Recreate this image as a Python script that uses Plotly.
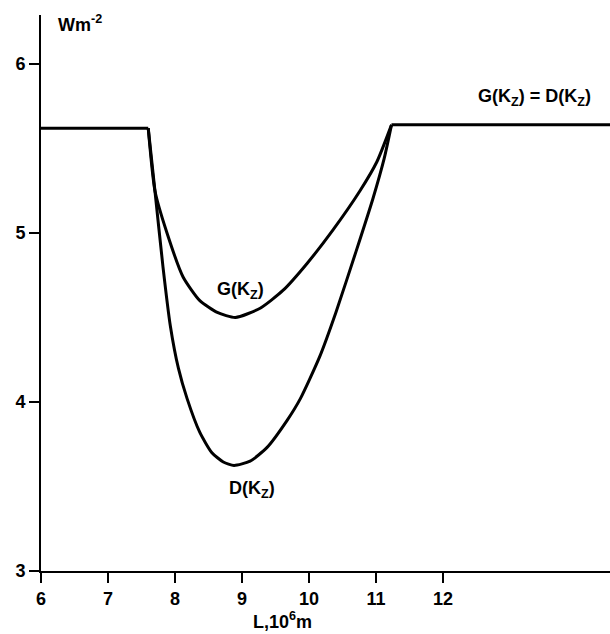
import plotly.graph_objects as go

# Flat parts (G = D)
flat_left_x = [6.0, 7.60]
flat_left_y = [5.62, 5.62]
flat_right_x = [11.23, 14.5]
flat_right_y = [5.64, 5.64]

# G(Kz) curve
g_x = [7.60, 7.70, 7.88, 8.12, 8.37, 8.63, 8.90, 9.27, 9.61, 9.97, 10.36, 10.76, 11.01, 11.23]
g_y = [5.62, 5.25, 5.00, 4.74, 4.60, 4.53, 4.50, 4.555, 4.66, 4.82, 5.02, 5.25, 5.42, 5.64]

# D(Kz) curve
d_x = [7.60, 7.70, 7.82, 7.93, 8.05, 8.18, 8.37, 8.55, 8.72, 8.88, 9.12, 9.37, 9.67, 9.87, 10.16, 10.40, 10.70, 10.95, 11.12, 11.23]
d_y = [5.62, 5.25, 4.80, 4.45, 4.20, 4.02, 3.82, 3.70, 3.645, 3.625, 3.65, 3.73, 3.89, 4.02, 4.27, 4.53, 4.89, 5.20, 5.44, 5.64]

x_ticks = [6, 7, 8, 9, 10, 11, 12]
y_ticks = [3, 4, 5, 6]

FONT = "Liberation Sans, Arial, sans-serif"
line = dict(color="black", width=3)

fig = go.Figure()
fig.add_trace(go.Scatter(x=flat_left_x, y=flat_left_y, mode="lines", line=line, showlegend=False))
fig.add_trace(go.Scatter(x=flat_right_x, y=flat_right_y, mode="lines", line=line, showlegend=False))
fig.add_trace(go.Scatter(x=g_x, y=g_y, mode="lines", line=dict(color="black", width=3, shape="spline", smoothing=0.6), showlegend=False))
fig.add_trace(go.Scatter(x=d_x, y=d_y, mode="lines", line=dict(color="black", width=3, shape="spline", smoothing=0.6), showlegend=False))

tfont = dict(family=FONT, size=18, color="black")
ann = [
    dict(x=8.97, y=4.66, xref="x", yref="y", text="<b>G(K<sub>Z</sub>)</b>", showarrow=False, font=tfont),
    dict(x=9.15, y=3.48, xref="x", yref="y", text="<b>D(K<sub>Z</sub>)</b>", showarrow=False, font=tfont),
    dict(x=13.36, y=5.80, xref="x", yref="y", text="<b>G(K<sub>Z</sub>) = D(K<sub>Z</sub>)</b>", showarrow=False, font=tfont),
    dict(x=6.58, y=6.24, xref="x", yref="y", text="<b>Wm<sup>-2</sup></b>", showarrow=False, font=tfont),
    dict(x=9.61, y=-0.089, xref="x", yref="paper", yanchor="middle", text="<b>L,10<sup>6</sup>m</b>", showarrow=False, font=tfont),
]

fig.update_layout(
    width=610, height=634,
    margin=dict(l=41, r=0, t=15, b=63),
    paper_bgcolor="white", plot_bgcolor="white",
    font=dict(family=FONT, size=18, color="black"),
    annotations=ann,
)
fig.update_xaxes(range=[6, 14.49], tickvals=x_ticks, ticktext=[f"<b>{v}</b>" for v in x_ticks],
                 showline=True, linecolor="black", linewidth=2, ticks="outside", ticklen=10,
                 tickwidth=2, tickcolor="black", showgrid=False, zeroline=False)
fig.update_yaxes(range=[3, 6.29], tickvals=y_ticks, ticktext=[f"<b>{v}</b>" for v in y_ticks],
                 showline=True, linecolor="black", linewidth=2, ticks="outside", ticklen=10,
                 tickwidth=2, tickcolor="black", showgrid=False, zeroline=False)

fig.write_html("out.html")
